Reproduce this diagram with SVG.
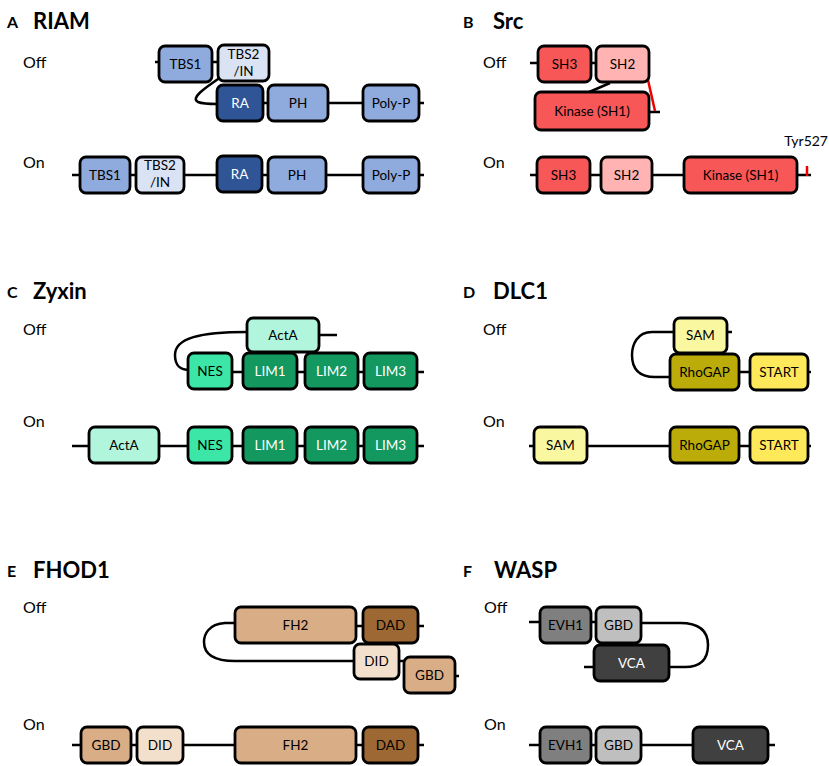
<svg xmlns="http://www.w3.org/2000/svg" width="829" height="766" viewBox="0 0 829 766">
<style>
text{font-family:Lato,"Liberation Sans",sans-serif;fill:#000}
.pl{font-size:16px;font-weight:bold}
.ti{font-size:22px;font-weight:bold}
.st{font-size:16px}
.bx{stroke:#000;stroke-width:2.8}
.t{font-size:13.5px;text-anchor:middle}
.w{fill:#fff}
.ln{fill:none;stroke:#000;stroke-width:2.5}
.rd{fill:none;stroke:#e00;stroke-width:2.5}
</style>
<rect width="829" height="766" fill="#fff"/>
<g id="labels">
<text class="pl" x="7" y="28">A</text><text class="ti" x="33" y="29">RIAM</text>
<text class="st" x="23" y="68">Off</text><text class="st" x="23" y="168">On</text>
<text class="pl" x="463" y="28">B</text><text class="ti" x="493" y="29">Src</text>
<text class="st" x="483" y="68">Off</text><text class="st" x="483" y="168">On</text>
<text x="828" y="146" style="font-size:14px;text-anchor:end">Tyr527</text>
<text class="pl" x="7" y="298">C</text><text class="ti" x="33" y="299">Zyxin</text>
<text class="st" x="23" y="335">Off</text><text class="st" x="23" y="427">On</text>
<text class="pl" x="463" y="298">D</text><text class="ti" x="493" y="299">DLC1</text>
<text class="st" x="483" y="335">Off</text><text class="st" x="483" y="427">On</text>
<text class="pl" x="7" y="577">E</text><text class="ti" x="33" y="578">FHOD1</text>
<text class="st" x="23" y="613">Off</text><text class="st" x="23" y="730">On</text>
<text class="pl" x="463" y="577">F</text><text class="ti" x="494" y="578">WASP</text>
<text class="st" x="484" y="613">Off</text><text class="st" x="484" y="730">On</text>
</g>
<g id="connectors">
<!-- A off -->
<path class="ln" d="M155,62 H220 M263,103 H424"/>
<path class="ln" d="M221,77 C205,88 190,98 198,102 C203,104 210,104 217,104"/>
<!-- A on -->
<path class="ln" d="M72,175 H424"/>
<!-- B off -->
<path class="ln" d="M530,63 H600 M649,112 H660 M610,83 L587,93"/>
<path class="rd" d="M648,80 L655,111"/>
<!-- B on -->
<path class="ln" d="M530,175 H811"/>
<path class="rd" d="M807,166 V176"/>
<!-- C off -->
<path class="ln" d="M319,335 H337 M232,372 H424"/>
<path class="ln" d="M247,332 C200,332 175,338 175,355 C175,366 180,370 190,370"/>
<!-- C on -->
<path class="ln" d="M72,446 H424"/>
<!-- D off -->
<path class="ln" d="M727,332 H732 M739,372 H811"/>
<path class="ln" d="M674,332 L652,332 C637,332 632,345 632,355 C632,370 640,377 655,377 L670,377"/>
<!-- D on -->
<path class="ln" d="M529,446 H811"/>
<!-- E off -->
<path class="ln" d="M356,626 H424 M399,661 H404 M455,676 H459"/>
<path class="ln" d="M235,623 L225,623 C208,624 204,635 204,642 C204,655 215,661 235,661 L354,661"/>
<!-- E on -->
<path class="ln" d="M72,745 H424"/>
<!-- F off -->
<path class="ln" d="M529,622 H596 M584,667 H594"/>
<path class="ln" d="M641,623 L680,623 C700,623 708,632 708,645 C708,660 700,667 685,667 L669,667"/>
<!-- F on -->
<path class="ln" d="M529,745 H775"/>
</g>
<!-- Panel A -->
<g id="A-off-TBS1"><rect class="bx" x="159" y="46" width="53" height="36" rx="6" fill="#8faadc"/><text class="t" x="185.5" y="68.5">TBS1</text></g>
<g id="A-off-TBS2"><rect class="bx" x="218" y="45" width="51" height="36" rx="6" fill="#dae3f3"/><text class="t" x="243.5" y="59">TBS2</text><text class="t" x="243.5" y="76">/IN</text></g>
<g id="A-off-RA"><rect class="bx" x="217" y="85" width="46" height="36" rx="6" fill="#2f5597"/><text class="t w" x="240" y="107.5">RA</text></g>
<g id="A-off-PH"><rect class="bx" x="268" y="85" width="60" height="36" rx="6" fill="#8faadc"/><text class="t" x="298" y="107.5">PH</text></g>
<g id="A-off-PolyP"><rect class="bx" x="363" y="85" width="56" height="36" rx="6" fill="#8faadc"/><text class="t" x="391" y="107.5">Poly-P</text></g>
<g id="A-on-TBS1"><rect class="bx" x="80" y="157" width="50" height="36" rx="6" fill="#8faadc"/><text class="t" x="105" y="179.5">TBS1</text></g>
<g id="A-on-TBS2"><rect class="bx" x="136" y="157" width="48" height="36" rx="6" fill="#dae3f3"/><text class="t" x="160" y="170">TBS2</text><text class="t" x="160" y="187">/IN</text></g>
<g id="A-on-RA"><rect class="bx" x="217" y="156" width="45" height="36" rx="6" fill="#2f5597"/><text class="t w" x="239.5" y="178.5">RA</text></g>
<g id="A-on-PH"><rect class="bx" x="268" y="157" width="58" height="36" rx="6" fill="#8faadc"/><text class="t" x="297" y="179.5">PH</text></g>
<g id="A-on-PolyP"><rect class="bx" x="363" y="157" width="56" height="36" rx="6" fill="#8faadc"/><text class="t" x="391" y="179.5">Poly-P</text></g>
<!-- Panel B -->
<g id="B-off-SH3"><rect class="bx" x="538" y="46" width="53" height="36" rx="6" fill="#f85757"/><text class="t" x="564.5" y="68.5">SH3</text></g>
<g id="B-off-SH2"><rect class="bx" x="596" y="46" width="53" height="36" rx="6" fill="#ffb3b3"/><text class="t" x="622.5" y="68.5">SH2</text></g>
<g id="B-off-Kinase"><rect class="bx" x="535" y="92" width="114" height="38" rx="6" fill="#f85757"/><text class="t" x="592" y="115.5">Kinase (SH1)</text></g>
<g id="B-on-SH3"><rect class="bx" x="537" y="157" width="53" height="36" rx="6" fill="#f85757"/><text class="t" x="563.5" y="179.5">SH3</text></g>
<g id="B-on-SH2"><rect class="bx" x="601" y="157" width="51" height="36" rx="6" fill="#ffb3b3"/><text class="t" x="626.5" y="179.5">SH2</text></g>
<g id="B-on-Kinase"><rect class="bx" x="684" y="157" width="113" height="36" rx="6" fill="#f85757"/><text class="t" x="740.5" y="179.5">Kinase (SH1)</text></g>
<!-- Panel C -->
<g id="C-off-ActA"><rect class="bx" x="247" y="318" width="72" height="34" rx="6" fill="#b0f5dc"/><text class="t" x="283" y="339.5">ActA</text></g>
<g id="C-off-NES"><rect class="bx" x="188" y="353" width="44" height="36" rx="6" fill="#3ce6a6"/><text class="t" x="210" y="375.5">NES</text></g>
<g id="C-off-LIM1"><rect class="bx" x="243" y="353" width="54" height="36" rx="6" fill="#139860"/><text class="t w" x="270" y="375.5">LIM1</text></g>
<g id="C-off-LIM2"><rect class="bx" x="305" y="353" width="53" height="36" rx="6" fill="#139860"/><text class="t w" x="331.5" y="375.5">LIM2</text></g>
<g id="C-off-LIM3"><rect class="bx" x="364" y="353" width="53" height="36" rx="6" fill="#139860"/><text class="t w" x="390.5" y="375.5">LIM3</text></g>
<g id="C-on-ActA"><rect class="bx" x="89" y="427" width="70" height="36" rx="6" fill="#b0f5dc"/><text class="t" x="124" y="449.5">ActA</text></g>
<g id="C-on-NES"><rect class="bx" x="188" y="427" width="44" height="36" rx="6" fill="#3ce6a6"/><text class="t" x="210" y="449.5">NES</text></g>
<g id="C-on-LIM1"><rect class="bx" x="243" y="427" width="54" height="36" rx="6" fill="#139860"/><text class="t w" x="270" y="449.5">LIM1</text></g>
<g id="C-on-LIM2"><rect class="bx" x="305" y="427" width="53" height="36" rx="6" fill="#139860"/><text class="t w" x="331.5" y="449.5">LIM2</text></g>
<g id="C-on-LIM3"><rect class="bx" x="364" y="427" width="53" height="36" rx="6" fill="#139860"/><text class="t w" x="390.5" y="449.5">LIM3</text></g>
<!-- Panel D -->
<g id="D-off-SAM"><rect class="bx" x="674" y="318" width="53" height="35" rx="6" fill="#f9f7a0"/><text class="t" x="700.5" y="340">SAM</text></g>
<g id="D-off-RhoGAP"><rect class="bx" x="670" y="354" width="69" height="36" rx="6" fill="#bcac0a"/><text class="t" x="704.5" y="376.5">RhoGAP</text></g>
<g id="D-off-START"><rect class="bx" x="750" y="354" width="58" height="36" rx="6" fill="#fde95a"/><text class="t" x="779" y="376.5">START</text></g>
<g id="D-on-SAM"><rect class="bx" x="534" y="427" width="53" height="36" rx="6" fill="#f9f7a0"/><text class="t" x="560.5" y="449.5">SAM</text></g>
<g id="D-on-RhoGAP"><rect class="bx" x="670" y="427" width="69" height="36" rx="6" fill="#bcac0a"/><text class="t" x="704.5" y="449.5">RhoGAP</text></g>
<g id="D-on-START"><rect class="bx" x="750" y="427" width="58" height="36" rx="6" fill="#fde95a"/><text class="t" x="779" y="449.5">START</text></g>
<!-- Panel E -->
<g id="E-off-FH2"><rect class="bx" x="235" y="607" width="121" height="36" rx="6" fill="#d9ad86"/><text class="t" x="295.5" y="629.5">FH2</text></g>
<g id="E-off-DAD"><rect class="bx" x="363" y="607" width="55" height="36" rx="6" fill="#9e6835"/><text class="t" x="390.5" y="629.5">DAD</text></g>
<g id="E-off-DID"><rect class="bx" x="354" y="644" width="45" height="35" rx="6" fill="#f3e0cc"/><text class="t" x="376.5" y="666">DID</text></g>
<g id="E-off-GBD"><rect class="bx" x="404" y="657" width="51" height="36" rx="6" fill="#d9ad86"/><text class="t" x="429.5" y="679.5">GBD</text></g>
<g id="E-on-GBD"><rect class="bx" x="81" y="727" width="50" height="36" rx="6" fill="#d9ad86"/><text class="t" x="106" y="749.5">GBD</text></g>
<g id="E-on-DID"><rect class="bx" x="137" y="727" width="46" height="36" rx="6" fill="#f3e0cc"/><text class="t" x="160" y="749.5">DID</text></g>
<g id="E-on-FH2"><rect class="bx" x="235" y="727" width="121" height="36" rx="6" fill="#d9ad86"/><text class="t" x="295.5" y="749.5">FH2</text></g>
<g id="E-on-DAD"><rect class="bx" x="363" y="727" width="55" height="36" rx="6" fill="#9e6835"/><text class="t" x="390.5" y="749.5">DAD</text></g>
<!-- Panel F -->
<g id="F-off-EVH1"><rect class="bx" x="540" y="607" width="51" height="36" rx="6" fill="#7f7f7f"/><text class="t" x="565.5" y="629.5">EVH1</text></g>
<g id="F-off-GBD"><rect class="bx" x="596" y="607" width="45" height="36" rx="6" fill="#bfbfbf"/><text class="t" x="618.5" y="629.5">GBD</text></g>
<g id="F-off-VCA"><rect class="bx" x="594" y="645" width="75" height="36" rx="6" fill="#404040"/><text class="t w" x="631.5" y="667.5">VCA</text></g>
<g id="F-on-EVH1"><rect class="bx" x="540" y="727" width="51" height="36" rx="6" fill="#7f7f7f"/><text class="t" x="565.5" y="749.5">EVH1</text></g>
<g id="F-on-GBD"><rect class="bx" x="596" y="727" width="45" height="36" rx="6" fill="#bfbfbf"/><text class="t" x="618.5" y="749.5">GBD</text></g>
<g id="F-on-VCA"><rect class="bx" x="693" y="727" width="75" height="36" rx="6" fill="#404040"/><text class="t w" x="730.5" y="749.5">VCA</text></g>
</svg>
